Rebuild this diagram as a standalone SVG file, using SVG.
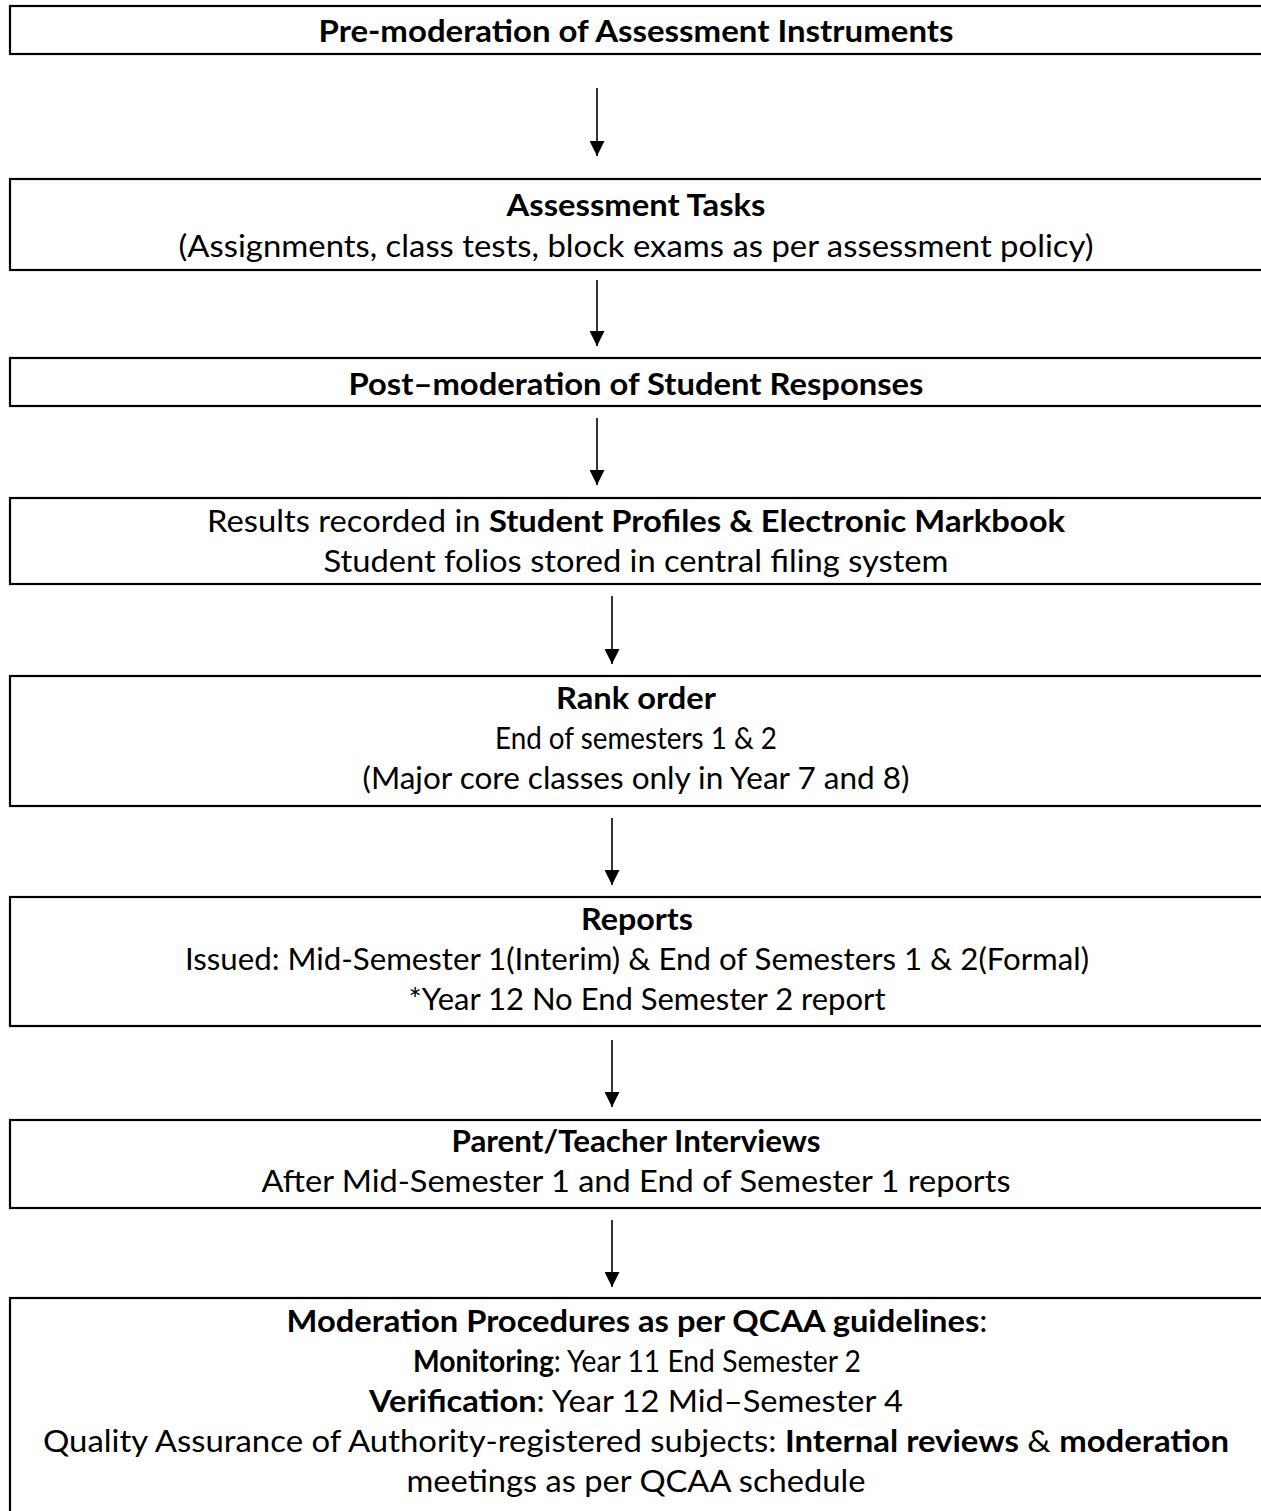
<svg xmlns="http://www.w3.org/2000/svg" width="1261" height="1511" viewBox="0 0 1261 1511">
<defs>
<style>
.box{fill:#fff;stroke:#000;stroke-width:2.2}
.t{font-family:Lato,"Open Sans","Liberation Sans",sans-serif;font-size:30px;fill:#000;text-anchor:middle}
.b{font-weight:bold}
.c{stroke:#000;stroke-width:1.6;fill:none}
</style>
<marker id="ah" markerUnits="userSpaceOnUse" markerWidth="15" markerHeight="15" refX="15" refY="7.5" orient="auto" viewBox="0 0 15 15">
<path d="M0,0 L15,7.5 L0,15 Z" fill="#000"/>
</marker>
</defs>
<rect width="1261" height="1511" fill="#fff"/>
<g id="connectors">
<line class="c" x1="597" y1="88" x2="597" y2="156" marker-end="url(#ah)"/>
<line class="c" x1="597" y1="280" x2="597" y2="346" marker-end="url(#ah)"/>
<line class="c" x1="597" y1="418" x2="597" y2="485" marker-end="url(#ah)"/>
<line class="c" x1="612" y1="596" x2="612" y2="664" marker-end="url(#ah)"/>
<line class="c" x1="612" y1="818" x2="612" y2="885" marker-end="url(#ah)"/>
<line class="c" x1="612" y1="1040" x2="612" y2="1107" marker-end="url(#ah)"/>
<line class="c" x1="612" y1="1220" x2="612" y2="1287" marker-end="url(#ah)"/>
</g>
<g id="node1">
<rect class="box" x="10" y="6" width="1270" height="48"/>
<text class="t b" x="636" y="42" textLength="635" lengthAdjust="spacingAndGlyphs">Pre-moderation of Assessment Instruments</text>
</g>
<g id="node2">
<rect class="box" x="10" y="179" width="1270" height="91"/>
<text class="t b" x="636" y="216" textLength="259" lengthAdjust="spacingAndGlyphs">Assessment Tasks</text>
<text class="t" x="636" y="257" textLength="915" lengthAdjust="spacingAndGlyphs">(Assignments, class tests, block exams as per assessment policy)</text>
</g>
<g id="node3">
<rect class="box" x="10" y="358" width="1270" height="48"/>
<text class="t b" x="636" y="395" textLength="575" lengthAdjust="spacingAndGlyphs">Post–moderation of Student Responses</text>
</g>
<g id="node4">
<rect class="box" x="10" y="498" width="1270" height="86"/>
<text class="t" x="636" y="532" textLength="858" lengthAdjust="spacingAndGlyphs">Results recorded in <tspan class="b">Student Profiles &amp; Electronic Markbook</tspan></text>
<text class="t" x="636" y="572" textLength="625" lengthAdjust="spacingAndGlyphs">Student folios stored in central filing system</text>
</g>
<g id="node5">
<rect class="box" x="10" y="676" width="1270" height="130"/>
<text class="t b" x="636" y="709" textLength="160" lengthAdjust="spacingAndGlyphs">Rank order</text>
<text class="t" x="636" y="749" textLength="282" lengthAdjust="spacingAndGlyphs">End of semesters 1 &amp; 2</text>
<text class="t" x="636" y="789" textLength="547" lengthAdjust="spacingAndGlyphs">(Major core classes only in Year 7 and 8)</text>
</g>
<g id="node6">
<rect class="box" x="10" y="897" width="1270" height="129"/>
<text class="t b" x="637" y="930" textLength="112" lengthAdjust="spacingAndGlyphs">Reports</text>
<text class="t" x="637" y="970" textLength="904" lengthAdjust="spacingAndGlyphs">Issued: Mid-Semester 1(Interim) &amp; End of Semesters 1 &amp; 2(Formal)</text>
<text class="t" x="647" y="1010" textLength="477" lengthAdjust="spacingAndGlyphs">*Year 12 No End Semester 2 report</text>
</g>
<g id="node7">
<rect class="box" x="10" y="1120" width="1270" height="88"/>
<text class="t b" x="636" y="1152" textLength="369" lengthAdjust="spacingAndGlyphs">Parent/Teacher Interviews</text>
<text class="t" x="636" y="1192" textLength="749" lengthAdjust="spacingAndGlyphs">After Mid-Semester 1 and End of Semester 1 reports</text>
</g>
<g id="node8">
<rect class="box" x="10" y="1298" width="1270" height="240"/>
<text class="t" x="637" y="1332" textLength="701" lengthAdjust="spacingAndGlyphs"><tspan class="b">Moderation Procedures as per QCAA guidelines</tspan>:</text>
<text class="t" x="637" y="1372" textLength="448" lengthAdjust="spacingAndGlyphs"><tspan class="b">Monitoring</tspan>: Year 11 End Semester 2</text>
<text class="t" x="636" y="1412" textLength="534" lengthAdjust="spacingAndGlyphs"><tspan class="b">Verification</tspan>: Year 12 Mid–Semester 4</text>
<text class="t" x="636" y="1452" textLength="1186" lengthAdjust="spacingAndGlyphs">Quality Assurance of Authority-registered subjects: <tspan class="b">Internal reviews</tspan> &amp; <tspan class="b">moderation</tspan></text>
<text class="t" x="636" y="1492" textLength="459" lengthAdjust="spacingAndGlyphs">meetings as per QCAA schedule</text>
</g>
</svg>
